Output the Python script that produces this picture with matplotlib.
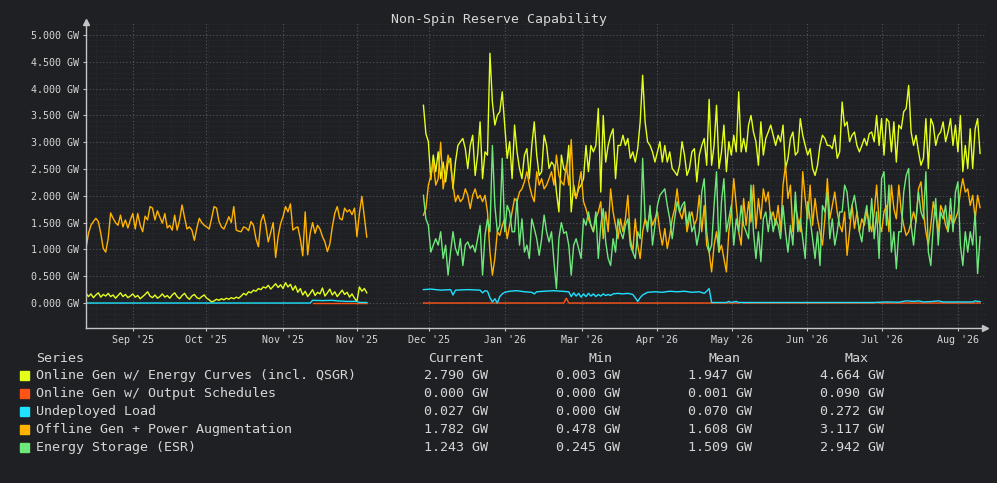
import numpy as np
import matplotlib.pyplot as plt
from matplotlib.patches import Rectangle
from matplotlib.ticker import FixedLocator, MultipleLocator, FuncFormatter

plt.rcParams['font.family'] = 'DejaVu Sans Mono'

# ---- data (GW), one sample per day ----
# first block: day 0 .. 114 (mid Aug '25 -> early Dec '25)
days_a = np.arange(0, 115)
# second block after the gap: day 137 .. 363
days_b = np.arange(137, 364)

energy_curves_a = [0.18, 0.12, 0.17, 0.10, 0.15, 0.19, 0.11, 0.16, 0.13, 0.18, 0.12,
                   0.15, 0.09, 0.14, 0.19, 0.12, 0.16, 0.10, 0.13, 0.17, 0.11,
                   0.14, 0.08, 0.12, 0.16, 0.21, 0.13, 0.10, 0.15, 0.09, 0.12,
                   0.17, 0.11, 0.14, 0.09, 0.15, 0.19, 0.12, 0.08, 0.14, 0.18,
                   0.11, 0.07, 0.13, 0.16, 0.10, 0.08, 0.12, 0.15, 0.09, 0.06,
                   0.02, 0.04, 0.07, 0.05, 0.08, 0.06, 0.09, 0.07, 0.10, 0.08,
                   0.11, 0.09, 0.13, 0.18, 0.15, 0.21, 0.19, 0.24, 0.22, 0.27,
                   0.25, 0.30, 0.28, 0.33, 0.26, 0.31, 0.36, 0.29, 0.34, 0.27,
                   0.38, 0.30, 0.35, 0.24, 0.32, 0.20, 0.27, 0.15, 0.22, 0.12,
                   0.18, 0.25, 0.14, 0.20, 0.17, 0.28, 0.13, 0.19, 0.26, 0.15,
                   0.21, 0.12, 0.18, 0.24, 0.16, 0.20, 0.11, 0.17, 0.09, 0.03,
                   0.30, 0.22, 0.27, 0.19]
energy_curves_b = [3.69, 3.16, 3.01, 2.30, 2.76, 2.45, 2.82, 2.32, 2.63, 2.26,
                   2.63, 2.70, 2.13, 2.63, 2.94, 3.01, 3.07, 2.88, 2.51, 2.94,
                   3.13, 2.38, 2.76, 3.38, 2.32, 2.82, 2.76, 4.66, 3.75, 3.32,
                   3.50, 3.57, 3.94, 3.32, 2.70, 3.01, 2.32, 3.32, 2.82, 2.51,
                   2.32, 2.76, 2.88, 2.32, 2.94, 3.38, 2.76, 2.38, 2.45, 3.13,
                   2.94, 2.51, 2.63, 2.57, 2.07, 1.70, 2.76, 2.50, 2.45, 2.94,
                   1.70, 2.20, 1.95, 2.13, 2.20, 2.32, 2.94, 2.45, 2.94, 2.82,
                   2.94, 3.63, 2.07, 3.50, 2.63, 2.94, 3.13, 3.25, 2.32, 2.94,
                   2.94, 3.13, 2.94, 3.07, 2.70, 2.82, 2.63, 2.88, 3.38, 4.25,
                   3.38, 3.01, 2.94, 2.82, 2.63, 2.82, 3.01, 2.63, 2.94, 2.63,
                   2.82, 2.51, 2.45, 2.38, 2.57, 3.01, 2.76, 2.38, 2.51, 2.82,
                   2.88, 2.26, 2.76, 2.94, 3.07, 2.57, 3.80, 2.57, 2.94, 3.69,
                   2.51, 2.82, 3.32, 2.45, 3.01, 2.76, 3.13, 2.82, 3.94, 2.82,
                   3.07, 2.82, 3.32, 3.50, 3.19, 3.01, 2.57, 3.38, 2.76, 3.07,
                   3.19, 3.32, 3.13, 2.94, 3.13, 3.01, 3.32, 2.51, 2.70, 3.07,
                   3.19, 2.76, 2.82, 3.44, 3.13, 2.94, 2.76, 2.88, 2.51, 2.38,
                   2.57, 2.94, 3.13, 3.07, 2.94, 2.94, 2.88, 3.13, 2.70, 2.82,
                   3.75, 3.30,
                   3.38, 3.01, 3.13, 3.19, 2.94, 2.82, 2.94, 3.07, 2.94, 3.16,
                   3.19, 3.01, 3.50, 2.94, 3.44, 2.76, 3.44, 3.38, 2.82, 3.38,
                   2.63, 3.32, 3.25, 3.57, 3.63, 4.06, 3.19, 2.94, 3.13, 2.82,
                   2.57, 2.70, 3.44, 2.51, 3.44, 3.32, 2.94, 3.13, 3.19, 3.38,
                   3.01, 3.19, 3.44, 2.94, 3.32, 2.82, 3.50, 2.45, 2.94, 2.51,
                   3.25, 2.51, 3.25, 3.44, 2.79]

offline_gen_a = [1.02, 1.30, 1.45, 1.52, 1.58, 1.52, 1.30, 1.02, 0.95, 1.20, 1.68,
                 1.58, 1.50, 1.45, 1.64, 1.42, 1.55, 1.40, 1.55, 1.67, 1.38,
                 1.67, 1.45, 1.33, 1.62, 1.55, 1.80, 1.77, 1.55, 1.72, 1.60,
                 1.49, 1.67, 1.40, 1.45, 1.36, 1.64, 1.36, 1.55, 1.83, 1.60,
                 1.38, 1.42, 1.36, 1.17, 1.40, 1.58, 1.50, 1.45, 1.42, 1.38,
                 1.58, 1.80, 1.77, 1.52, 1.42, 1.38, 1.49, 1.61, 1.50, 1.80,
                 1.36, 1.34, 1.33, 1.42, 1.40, 1.35, 1.52, 1.45, 1.20, 1.05,
                 1.52, 1.65, 1.45, 1.14, 1.32, 1.50, 0.85, 1.24, 1.48, 1.61,
                 1.80, 1.70, 1.85, 1.36, 1.40, 1.42, 1.20, 0.88, 1.70, 0.90,
                 1.30, 1.50, 1.30, 1.45, 1.38, 1.24, 1.14, 0.96, 1.10, 1.42,
                 1.67, 1.80, 1.58, 1.55, 1.77, 1.70, 1.74, 1.65, 1.77, 1.24,
                 1.67, 1.99, 1.61, 1.23]
offline_gen_b = [1.64, 1.76, 2.20, 2.38, 2.63, 2.20, 2.32, 3.00, 2.13, 2.45,
                 2.76, 2.57, 2.20, 1.89, 2.01, 1.89, 1.95, 2.13, 2.01, 1.76,
                 2.01, 2.13, 1.95, 2.01, 1.89, 2.01, 1.70, 0.95, 0.52, 0.83,
                 1.33, 1.26, 1.45, 1.57, 1.20, 1.45, 1.70, 1.95, 1.89, 2.07,
                 2.13, 2.26, 2.45, 2.20, 2.01, 1.89, 2.45, 2.20, 2.32, 2.13,
                 2.20, 2.32, 2.45, 2.20, 2.76, 2.38, 2.26, 2.20, 2.57, 2.20,
                 3.05, 2.07, 1.95, 2.20, 2.45, 1.89, 1.76, 1.57, 1.45, 1.33,
                 1.57, 1.70, 1.89, 1.20, 1.70, 1.33, 2.13, 1.70, 1.45, 1.20,
                 1.57, 1.33, 1.57, 2.01, 1.20, 0.95, 1.57, 1.08, 0.83, 1.33,
                 1.57, 1.45, 1.70, 1.45, 1.57, 1.70, 1.33, 1.08, 1.39, 1.02,
                 1.26, 1.57, 1.76, 2.13, 1.70, 1.57, 1.82, 1.33, 1.57, 1.70,
                 1.45, 1.57, 2.01, 1.33, 1.82, 1.08, 0.95, 0.58, 1.08, 1.33,
                 0.95, 1.08, 0.83, 0.58, 1.33, 1.70, 2.32, 1.82, 1.33, 1.08,
                 1.95, 1.45, 1.89, 1.51, 2.20, 1.39, 1.95, 1.57, 2.13, 1.89,
                 2.07, 1.57, 1.70, 1.45, 1.82, 1.33, 2.20, 2.57, 1.95, 2.20,
                 1.33, 1.82, 1.57, 1.33, 2.45, 1.95, 1.57, 2.20, 1.45, 1.95,
                 1.57, 1.33, 1.08, 1.57, 2.32, 1.57, 1.82, 2.07, 1.70, 1.45,
                 1.33, 1.70,
                 0.89, 1.33, 1.82, 1.39, 1.70, 1.33, 1.57, 1.45, 1.70, 1.51,
                 1.33, 1.70, 2.20, 1.51, 1.33, 1.70, 1.82, 1.33, 2.20, 1.76,
                 1.57, 2.20, 1.70, 1.45, 1.26, 1.33, 1.51, 1.70, 1.51, 2.13,
                 2.26, 1.70, 1.33, 1.08, 1.45, 1.89, 1.64, 1.33, 1.82, 1.70,
                 1.45, 1.33, 1.64, 1.45, 1.57, 1.70, 2.07, 2.32, 2.07, 2.13,
                 1.82, 2.01, 1.57, 2.01, 1.78]

storage_b = [2.01, 1.57, 1.45, 0.95, 1.08, 1.20, 1.08, 1.33, 0.83, 1.08,
             0.52, 0.95, 1.33, 1.02, 0.89, 1.20, 0.70, 1.08, 1.14, 1.02,
             1.08, 0.95, 1.20, 1.45, 0.52, 1.26, 1.57, 1.33, 2.94, 1.82,
             1.33, 1.45, 2.70, 1.33, 1.82, 1.70, 1.33, 1.33, 1.95, 1.08,
             1.57, 0.95, 1.08, 0.83, 1.57, 1.39, 1.20, 0.89, 1.20, 1.64,
             1.33, 1.14, 1.33, 0.77, 0.27, 1.20, 1.50, 1.30, 1.33, 1.08,
             0.52, 1.08, 1.20, 1.02, 0.83, 1.57, 1.45, 1.70, 1.45, 1.33,
             1.70, 0.83, 1.45, 1.76, 1.14, 0.83, 0.70, 1.20, 0.95, 1.57,
             1.33, 1.20, 1.45, 1.57, 1.08, 0.95, 0.83, 1.33, 1.20, 2.70,
             1.57, 1.33, 1.82, 1.08, 1.45, 1.82, 2.01, 2.07, 2.13, 1.82,
             1.57, 1.20, 1.57, 1.89, 1.70, 1.82, 1.89, 1.45, 1.70, 1.33,
             1.45, 1.08, 1.33, 2.07, 2.32, 1.33, 0.95, 1.08, 1.82, 2.45,
             0.95, 1.89, 2.32, 1.33, 1.57, 1.82, 1.08, 1.57, 1.33, 1.82,
             1.45, 1.33, 1.20, 2.20, 1.33, 0.83, 1.33, 0.77, 1.57, 1.70,
             1.33, 1.70, 1.33, 1.57, 1.45, 1.20, 1.82, 1.33, 0.95, 1.45,
             1.08, 2.07, 1.33, 1.57, 1.20, 0.83, 1.89, 1.57, 1.20, 0.83,
             1.33, 0.70, 1.82, 1.70, 2.07, 1.20, 1.57, 1.08, 1.33, 1.70,
             1.70, 2.20,
             2.07, 1.57, 1.82, 2.01, 1.70, 1.33, 1.14, 1.57, 1.82, 1.33,
             1.95, 1.20, 1.70, 0.83, 2.32, 2.45, 1.45, 2.20, 0.95, 1.33,
             0.64, 1.33, 1.33, 2.07, 2.38, 2.51, 1.45, 1.08, 1.57, 2.07,
             1.70, 1.57, 2.45, 0.95, 0.70, 1.45, 1.95, 1.08, 1.70, 1.57,
             1.82, 1.33, 1.95, 1.33, 2.07, 2.26, 1.08, 0.70, 1.33, 0.95,
             1.33, 1.08, 1.70, 0.55, 1.24]

# sparse series (mostly flat)
undeployed_days_a = [0, 91, 92, 96, 100, 102, 106, 110, 111, 114]
undeployed_a = [0.0, 0.0, 0.05, 0.045, 0.05, 0.04, 0.03, 0.03, 0.01, 0.01]
undeployed_days_b = [137, 140, 144, 148, 149, 150, 155, 160, 161, 162, 163, 164, 165, 166,
                     167, 168, 169, 170, 172, 175, 178, 181, 182, 183, 186, 190, 193,
                     196, 197, 198, 199, 200, 201, 202, 203, 204, 205, 206, 207, 208,
                     209, 210, 211, 212, 213, 214, 216, 218, 220, 222, 223, 224, 225,
                     226, 228, 231, 234, 237, 240, 243, 246, 249, 251, 252, 253, 254,
                     260, 261, 262, 263, 264, 265, 280, 300, 320, 325, 330, 333, 336,
                     338, 340, 344, 346, 348, 355, 360, 361, 362, 363]
undeployed_b = [0.25, 0.26, 0.24, 0.25, 0.15, 0.24, 0.25, 0.24, 0.19, 0.23, 0.22, 0.10, 0.02, 0.08,
                0.00, 0.12, 0.17, 0.20, 0.22, 0.23, 0.21, 0.20, 0.17, 0.21, 0.22, 0.23, 0.22,
                0.21, 0.12, 0.19, 0.13, 0.18, 0.11, 0.17, 0.12, 0.18, 0.13, 0.17, 0.12, 0.16,
                0.13, 0.17, 0.14, 0.16, 0.14, 0.17, 0.18, 0.17, 0.18, 0.16, 0.10, 0.03, 0.10,
                0.15, 0.20, 0.21, 0.20, 0.22, 0.21, 0.22, 0.20, 0.21, 0.18, 0.22, 0.27, 0.01,
                0.01, 0.03, 0.01, 0.02, 0.03, 0.01, 0.01, 0.01, 0.01, 0.02, 0.015, 0.04, 0.03,
                0.04, 0.02, 0.03, 0.04, 0.02, 0.02, 0.02, 0.04, 0.03, 0.027]

schedules_days_a = [92, 114]
schedules_a = [0.0, 0.0]
schedules_days_b = [137, 194, 195, 196, 265, 266, 267, 320, 321, 322, 363]
schedules_b = [0.0, 0.0, 0.09, 0.0, 0.0, 0.01, 0.0, 0.0, 0.01, 0.0, 0.0]

series_names = ['Online Gen w/ Energy Curves (incl. QSGR)', 'Online Gen w/ Output Schedules',
                'Undeployed Load', 'Offline Gen + Power Augmentation', 'Energy Storage (ESR)']
series_colors = ['#e4ff1a', '#ff5416', '#1ee2ff', '#ffb300', '#6ee87a']
stat_current = [2.790, 0.000, 0.027, 1.782, 1.243]
stat_min = [0.003, 0.000, 0.000, 0.478, 0.245]
stat_mean = [1.947, 0.001, 0.070, 1.608, 1.509]
stat_max = [4.664, 0.090, 0.272, 3.117, 2.942]

tick_days = [19.2, 48.9, 79.8, 109.9, 139.4, 170.3, 201.2, 231.7, 262.1, 292.9, 323.0, 353.9]
tick_labels = ["Sep '25", "Oct '25", "Nov '25", "Nov '25", "Dec '25", "Jan '26",
               "Mar '26", "Apr '26", "May '26", "Jun '26", "Jul '26", "Aug '26"]

# ---- figure ----
BG = '#1f2023'
TXT = '#d6d6d6'
AXC = '#c4c4c4'
W, H = 997, 483

fig = plt.figure(figsize=(W / 100, H / 100), dpi=100, facecolor=BG)
ax = fig.add_axes([86 / W, 155 / H, 899 / W, 306 / H])
ax.set_facecolor(BG)

lw = 1.0
c = series_colors
ax.plot(days_a, energy_curves_a, color=c[0], lw=lw)
ax.plot(days_b, energy_curves_b, color=c[0], lw=lw)
ax.plot(schedules_days_a, schedules_a, color=c[1], lw=lw)
ax.plot(schedules_days_b, schedules_b, color=c[1], lw=lw)
ax.plot(undeployed_days_a, undeployed_a, color=c[2], lw=lw)
ax.plot(undeployed_days_b, undeployed_b, color=c[2], lw=lw)
ax.plot(days_a, offline_gen_a, color=c[3], lw=lw)
ax.plot(days_b, offline_gen_b, color=c[3], lw=lw)
ax.plot(days_b, storage_b, color=c[4], lw=lw)

ax.set_xlim(0, 365)
ax.set_ylim(-0.466, 5.243)

ax.yaxis.set_major_locator(MultipleLocator(0.5))
ax.yaxis.set_minor_locator(MultipleLocator(0.1))
ax.yaxis.set_major_formatter(FuncFormatter(lambda v, p: f'{v:.3f} GW'))
ax.xaxis.set_major_locator(FixedLocator(tick_days))
ax.xaxis.set_minor_locator(FixedLocator(np.arange(tick_days[0] - 2 * 7.6, 365, 7.6)))
ax.set_xticklabels(tick_labels)

ax.grid(which='major', color='#55565b', ls=(0, (1, 2)), lw=0.8)
ax.grid(which='minor', color='#2f3034', ls=(0, (1, 2)), lw=0.6)
ax.set_axisbelow(True)

ax.tick_params(which='major', colors=AXC, labelcolor=TXT, labelsize=7.2,
               length=2.5, width=0.8, pad=2.5)
ax.tick_params(which='minor', length=0)
for s in ['top', 'right']:
    ax.spines[s].set_visible(False)
for s in ['left', 'bottom']:
    ax.spines[s].set_color(AXC)
    ax.spines[s].set_linewidth(1.0)
ax.plot(0, 1, marker='^', ms=4, color=AXC, transform=ax.transAxes, clip_on=False)
ax.plot(1, 0, marker='>', ms=4, color=AXC, transform=ax.transAxes, clip_on=False)

fig.text(0.5, 1 - 19 / H, 'Non-Spin Reserve Capability', ha='center', va='center',
         fontsize=9.5, color=TXT)

# ---- legend table ----
fs = 9.6
head_y = 361.5
fig.text(36 / W, 1 - head_y / H, 'Series', fontsize=fs, color=TXT, va='baseline')
for x, t in zip([456, 600, 724, 856], ['Current', 'Min', 'Mean', 'Max']):
    fig.text(x / W, 1 - head_y / H, t, fontsize=fs, color=TXT, ha='center', va='baseline')

for i, name in enumerate(series_names):
    base = 379.3 + 18 * i
    fig.patches.append(Rectangle((20 / W, 1 - (371 + 18 * i + 9) / H), 9 / W, 9 / H,
                                 transform=fig.transFigure, color=series_colors[i]))
    fig.text(36 / W, 1 - base / H, name, fontsize=fs, color=TXT, va='baseline')
    for x, v in zip([488, 620, 752, 884],
                    [stat_current[i], stat_min[i], stat_mean[i], stat_max[i]]):
        fig.text(x / W, 1 - base / H, f'{v:.3f} GW', fontsize=fs, color=TXT,
                 ha='right', va='baseline')

fig.savefig('out.png', dpi=100, facecolor=BG)
